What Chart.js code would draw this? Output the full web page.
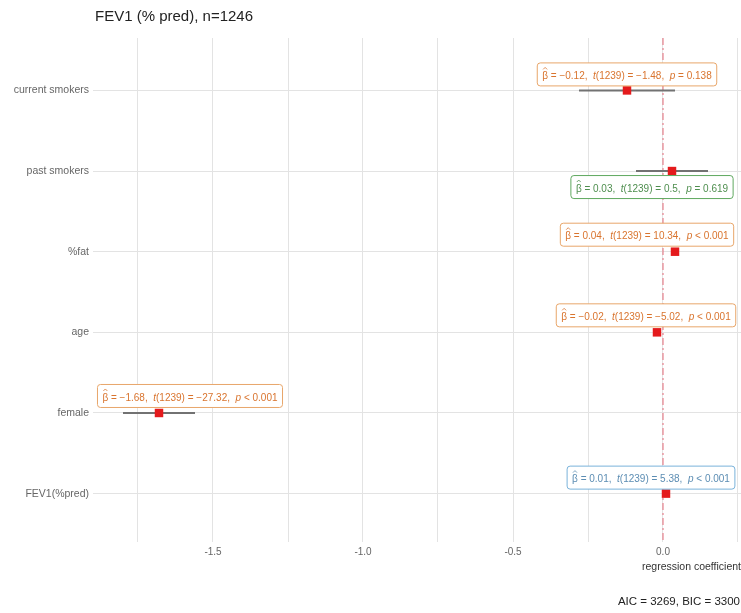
<!DOCTYPE html>
<html>
<head>
<meta charset="utf-8">
<title>FEV1 (% pred), n=1246</title>
<script src="https://cdn.jsdelivr.net/npm/chart.js@4/dist/chart.umd.min.js"></script>
<style>
  html, body { margin: 0; padding: 0; background: #ffffff; overflow: hidden; }
  #wrap { position: relative; width: 741px; height: 613px; }
  canvas { display: block; }
</style>
</head>
<body>
<div id="wrap"><canvas id="chart"></canvas></div>
<script>
// Model terms, top to bottom
const categories = ['current smokers', 'past smokers', '%fat', 'age', 'female', 'FEV1(%pred)'];
// Coefficients and 95% confidence limits
const estimates = [-0.12, 0.03, 0.04, -0.02, -1.68, 0.01];
const ciLow     = [-0.28, -0.09, 0.032, -0.028, -1.80, 0.006];
const ciHigh    = [0.04, 0.15, 0.048, -0.012, -1.56, 0.014];
// Test statistics shown in the labels
const estText = ['\u22120.12', '0.03', '0.04', '\u22120.02', '\u22121.68', '0.01'];
const tText   = ['\u22121.48', '0.5', '10.34', '\u22125.02', '\u221227.32', '5.38'];
const pText   = ['= 0.138', '= 0.619', '< 0.001', '< 0.001', '< 0.001', '< 0.001'];
const dfResid = 1239;
// x axis ticks (minor every 0.25, labelled every 0.5)
const xTicks = [-1.75, -1.5, -1.25, -1.0, -0.75, -0.5, -0.25, 0.0, 0.25];
const xTickLabels = ['', '-1.5', '', '-1.0', '', '-0.5', '', '0.0', ''];
const titleText = 'FEV1 (% pred), n=1246';
const fitText = 'AIC = 3269, BIC = 3300';

// label styling per term
const labelTheme = ['orange', 'green', 'orange', 'orange', 'orange', 'blue'];
const themes = {
  orange: { border: '#E8A66A', text: '#D9742E' },
  green:  { border: '#5FA85F', text: '#4E8E4E' },
  blue:   { border: '#79B2DA', text: '#5C8DB3' }
};
// label nudges in pixels from each point
const labelNudge = [[0, -16], [-20, 16], [-28, -17], [-11, -17], [31, -17], [-15, -16]];

const FONT = '"Liberation Sans", Arial, sans-serif';

const ciSets = categories.map((c, i) => ({
  type: 'scatter',
  showLine: true,
  data: [{ x: ciLow[i], y: i + 1 }, { x: ciHigh[i], y: i + 1 }],
  borderColor: '#727272',
  borderWidth: 2,
  pointRadius: 0,
  order: 1
}));

const pointSet = {
  type: 'scatter',
  data: estimates.map((v, i) => ({ x: v, y: i + 1 })),
  pointStyle: 'rect',
  pointRadius: 6,
  pointBackgroundColor: '#E41A1C',
  pointBorderColor: '#E41A1C',
  pointBorderWidth: 0,
  order: 0
};

const zeroLine = {
  type: 'scatter',
  showLine: true,
  data: [{ x: 0, y: 0.35 }, { x: 0, y: 6.6 }],
  borderColor: '#E46B78',
  borderWidth: 1,
  borderDash: [7, 3, 2, 3],
  pointRadius: 0,
  order: 2
};

const textPlugin = {
  id: 'textPlugin',
  afterDraw(chart) {
    const ctx = chart.ctx;
    ctx.save();
    ctx.fillStyle = '#222';
    ctx.font = '15px ' + FONT;
    ctx.textAlign = 'left';
    ctx.textBaseline = 'middle';
    ctx.fillText(titleText, 95, 17);
    ctx.font = '11.5px ' + FONT;
    ctx.textAlign = 'right';
    ctx.fillText(fitText, 740, 602);
    ctx.restore();
  }
};

const labelPlugin = {
  id: 'labelPlugin',
  afterDatasetsDraw(chart) {
    const ctx = chart.ctx;
    const xs = chart.scales.x, ys = chart.scales.y;
    ctx.save();
    categories.forEach((c, i) => {
      const th = themes[labelTheme[i]];
      const px = xs.getPixelForValue(estimates[i]);
      const py = ys.getPixelForValue(i + 1);
      const cx = px + labelNudge[i][0];
      const cy = py + labelNudge[i][1];
      const pieces = [
        ['\u03B2', false],
        [' = ' + estText[i] + ',  ', false],
        ['t', true],
        ['(' + dfResid + ') = ' + tText[i] + ',  ', false],
        ['p', true],
        [' ' + pText[i], false]
      ];
      const normal = '10px ' + FONT, ital = 'italic 10px ' + FONT;
      let w = 0;
      pieces.forEach(p => { ctx.font = p[1] ? ital : normal; p.push(ctx.measureText(p[0]).width); w += p[2]; });
      const bw = w + 10, bh = 23;
      const bx = cx - bw / 2, by = cy - bh / 2;
      ctx.beginPath();
      ctx.roundRect(bx, by, bw, bh, 3);
      ctx.fillStyle = '#ffffff';
      ctx.fill();
      ctx.lineWidth = 1;
      ctx.strokeStyle = th.border;
      ctx.stroke();
      ctx.fillStyle = th.text;
      ctx.textBaseline = 'middle';
      ctx.textAlign = 'left';
      let tx = bx + 5;
      const ty = cy + 2;
      pieces.forEach((p, k) => {
        ctx.font = p[1] ? ital : normal;
        ctx.fillText(p[0], tx, ty);
        if (k === 0) {
          // hat over beta
          const mx = tx + p[2] / 2;
          ctx.beginPath();
          ctx.moveTo(mx - 2, ty - 7);
          ctx.lineTo(mx, ty - 9);
          ctx.lineTo(mx + 2, ty - 7);
          ctx.strokeStyle = th.text;
          ctx.lineWidth = 0.8;
          ctx.stroke();
        }
        tx += p[2];
      });
    });
    ctx.restore();
  }
};

new Chart(document.getElementById('chart'), {
  type: 'scatter',
  data: { datasets: [pointSet, ...ciSets, zeroLine] },
  options: {
    responsive: true,
    maintainAspectRatio: false,
    animation: false,
    layout: { autoPadding: false, padding: { top: 38, left: 0, right: 0, bottom: 36 } },
    plugins: { legend: { display: false }, tooltip: { enabled: false } },
    scales: {
      x: {
        type: 'linear',
        min: -1.9,
        max: 0.26,
        afterBuildTicks(scale) { scale.ticks = xTicks.map(v => ({ value: v })); },
        afterFit(scale) { scale.height = 35; scale.paddingLeft = 0; scale.paddingRight = 0; },
        ticks: {
          autoSkip: false,
          maxRotation: 0,
          padding: 4,
          color: '#666',
          font: { family: FONT, size: 10 },
          callback(value, idx) { return xTickLabels[idx]; }
        },
        grid: { color: '#e3e3e3', lineWidth: 1, drawTicks: false },
        border: { display: false },
        title: {
          display: true,
          text: 'regression coefficient',
          align: 'end',
          color: '#333',
          font: { family: FONT, size: 10.5 },
          padding: { top: 4, bottom: 4 }
        }
      },
      y: {
        type: 'linear',
        reverse: true,
        min: 0.35,
        max: 6.6,
        afterBuildTicks(scale) { scale.ticks = categories.map((c, i) => ({ value: i + 1 })); },
        afterFit(scale) { scale.width = 93; },
        ticks: {
          autoSkip: false,
          padding: 4,
          color: '#666',
          font: { family: FONT, size: 10.5 },
          callback(value) { return categories[value - 1]; }
        },
        grid: { color: '#e3e3e3', lineWidth: 1, drawTicks: false },
        border: { display: false }
      }
    }
  },
  plugins: [labelPlugin, textPlugin]
});
</script>
</body>
</html>
